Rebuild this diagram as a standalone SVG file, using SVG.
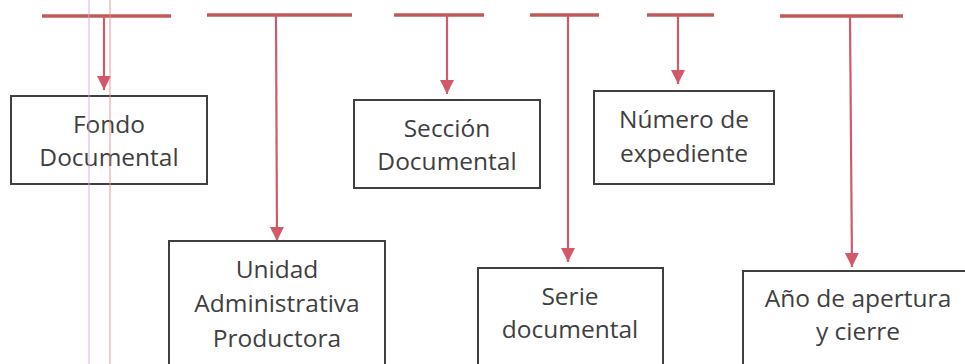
<svg xmlns="http://www.w3.org/2000/svg" width="965" height="364" viewBox="0 0 965 364">
  <style>
    .box rect { fill: #ffffff; stroke: #3f3f3f; stroke-width: 2; }
    .box text { font-family: "Open Sans", "Noto Sans", "DejaVu Sans", sans-serif; font-size: 24.5px; fill: #3f3f3f; text-anchor: middle; }
    .bar { stroke: #c05a58; stroke-width: 3.5; fill: none; }
    .stem { stroke: #d2596a; stroke-width: 2.2; fill: none; marker-end: url(#arrow); }
    .guide { stroke-width: 1; fill: none; }
  </style>
  <defs>
    <marker id="arrow" markerUnits="userSpaceOnUse" markerWidth="14" markerHeight="16" refX="14" refY="7" orient="auto">
      <path d="M0,0 L14,7 L0,14 Z" fill="#d2596a"/>
    </marker>
  </defs>
  <rect width="965" height="364" fill="#ffffff"/>

  <g id="connectors">
    <line class="bar" x1="42" y1="16" x2="171" y2="16"/>
    <line class="stem" x1="104" y1="16" x2="104" y2="90"/>
    <line class="bar" x1="207" y1="15" x2="352" y2="15"/>
    <line class="stem" x1="276" y1="15" x2="277" y2="241"/>
    <line class="bar" x1="394" y1="15" x2="484" y2="15"/>
    <line class="stem" x1="447" y1="15" x2="447" y2="94"/>
    <line class="bar" x1="530" y1="15" x2="599" y2="15"/>
    <line class="stem" x1="568" y1="15" x2="568" y2="262"/>
    <line class="bar" x1="647" y1="15" x2="714" y2="15"/>
    <line class="stem" x1="678" y1="15" x2="678" y2="84"/>
    <line class="bar" x1="780" y1="16" x2="903" y2="16"/>
    <line class="stem" x1="850" y1="16" x2="852" y2="267"/>
  </g>

  <g id="fondo" class="box">
    <rect x="11" y="96" width="196" height="88"/>
    <text x="109" y="133">Fondo</text>
    <text x="109" y="166">Documental</text>
  </g>
  <g id="unidad" class="box">
    <rect x="169" y="241" width="216" height="135"/>
    <text x="277" y="278">Unidad</text>
    <text x="277" y="312">Administrativa</text>
    <text x="277" y="347">Productora</text>
  </g>
  <g id="seccion" class="box">
    <rect x="354" y="100" width="186" height="88"/>
    <text x="447" y="137">Sección</text>
    <text x="447" y="170">Documental</text>
  </g>
  <g id="serie" class="box">
    <rect x="478" y="268" width="185" height="110"/>
    <text x="570" y="305">Serie</text>
    <text x="570" y="338">documental</text>
  </g>
  <g id="numero" class="box">
    <rect x="594" y="91" width="180" height="93"/>
    <text x="684" y="128">Número de</text>
    <text x="684" y="162">expediente</text>
  </g>
  <g id="anio" class="box">
    <rect x="743" y="271" width="230" height="110"/>
    <text x="858" y="307">Año de apertura</text>
    <text x="858" y="340">y cierre</text>
  </g>

  <line class="guide" x1="89" y1="0" x2="89" y2="364" stroke="#d2a8ea" opacity="0.9"/>
  <line class="guide" x1="110" y1="0" x2="110" y2="364" stroke="#f28a8a" opacity="0.9"/>
</svg>
